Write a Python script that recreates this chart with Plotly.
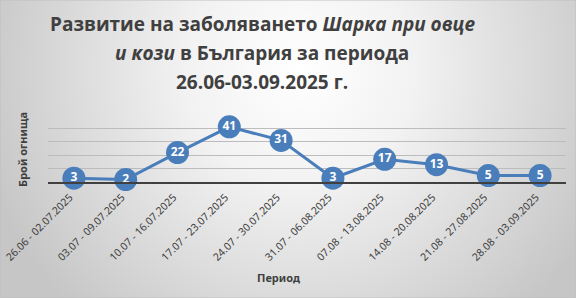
import base64
import plotly.graph_objects as go

periods = ["26.06 - 02.07.2025", "03.07 - 09.07.2025", "10.07 - 16.07.2025",
           "17.07 - 23.07.2025", "24.07 - 30.07.2025", "31.07 - 06.08.2025",
           "07.08 - 13.08.2025", "14.08 - 20.08.2025", "21.08 - 27.08.2025",
           "28.08 - 03.09.2025"]
outbreaks = [3, 2, 22, 41, 31, 3, 17, 13, 5, 5]
title_lines = ["<b>Развитие на заболяването <i>Шарка при овце</i></b>",
               "<b><i>и кози</i> в България за периода</b>",
               "<b>26.06-03.09.2025 г.</b>"]
y_title = "<b>Брой огнища</b>"
x_title = "<b>Период</b>"

W, H = 576, 298
x0, x1 = 48, 566
ytop, ybot = 114.7, 182.3

svg = f'''<svg xmlns="http://www.w3.org/2000/svg" width="{W}" height="{H}" viewBox="0 0 {W} {H}" preserveAspectRatio="none">
<defs><radialGradient id="g" cx="300" cy="70" r="330" gradientUnits="userSpaceOnUse">
<stop offset="0" stop-color="#ffffff"/><stop offset="0.35" stop-color="#f2f2f2"/><stop offset="1" stop-color="#c6c6c6"/></radialGradient></defs>
<rect width="{W}" height="{H}" fill="url(#g)"/></svg>'''
src = "data:image/svg+xml;base64," + base64.b64encode(svg.encode()).decode()

fig = go.Figure()
fig.add_trace(go.Scatter(
    x=periods, y=outbreaks, mode="lines+markers+text",
    line=dict(color="#4a7ebb", width=3),
    marker=dict(size=23, color="#4a7ebb", line=dict(width=0)),
    text=[str(v) for v in outbreaks], textposition="middle center",
    textfont=dict(family="Open Sans", size=12, color="white", weight="bold"),
    cliponaxis=False, hoverinfo="skip", showlegend=False,
))

annotations = []
for i, (line, yc) in enumerate(zip(title_lines, [24, 53, 82])):
    annotations.append(dict(text=line, xref="paper", yref="paper", x=262 / W, y=1 - yc / H,
                            xanchor="center", yanchor="middle", showarrow=False,
                            font=dict(family="Open Sans", size=19, color="#404040")))
annotations.append(dict(text=y_title, xref="paper", yref="paper", x=22 / W, y=1 - 150 / H,
                        xanchor="center", yanchor="middle", showarrow=False, textangle=-90,
                        font=dict(family="Noto Sans", size=11, color="#404040")))
annotations.append(dict(text=x_title, xref="paper", yref="paper", x=278 / W, y=1 - 277 / H,
                        xanchor="center", yanchor="middle", showarrow=False,
                        font=dict(family="Noto Sans", size=11, color="#404040")))

fig.update_layout(
    width=W, height=H,
    margin=dict(l=0, r=0, t=0, b=0),
    paper_bgcolor="#e0e0e0", plot_bgcolor="rgba(0,0,0,0)",
    images=[dict(source=src, xref="paper", yref="paper", x=0, y=1,
                 sizex=1, sizey=1, xanchor="left", yanchor="top",
                 sizing="stretch", layer="below")],
    xaxis=dict(
        domain=[x0 / W, x1 / W], range=[-0.5, 9.5], type="category",
        showline=True, linecolor="#404040", linewidth=2,
        showgrid=False, ticks="", tickangle=-45, automargin=False,
        ticklabelshift=-4, ticklabelstandoff=3,
        tickfont=dict(family="Noto Sans", size=10.5, color="#404040"),
    ),
    yaxis=dict(
        domain=[1 - ybot / H, 1 - ytop / H], range=[0, 50], dtick=10,
        showticklabels=False, showgrid=True, gridcolor="#bcbcbc", gridwidth=1,
        zeroline=False, showline=False, ticks="", automargin=False,
    ),
    annotations=annotations,
    shapes=[dict(type="rect", xref="paper", yref="paper", x0=0, y0=0, x1=1, y1=1,
                 line=dict(color="#bfbfbf", width=1))],
)

fig.write_html("out.html")
